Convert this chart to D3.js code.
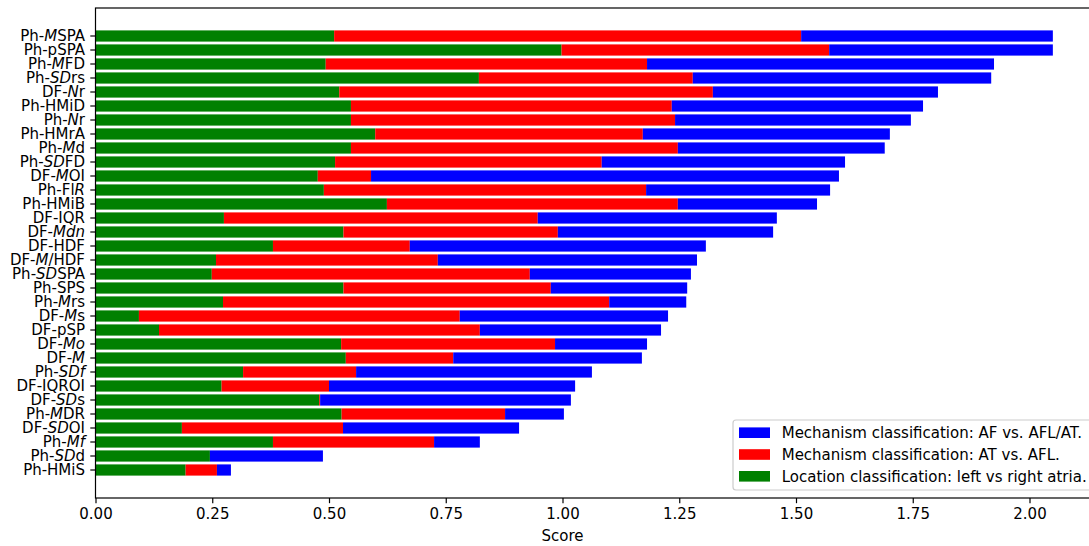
<!DOCTYPE html>
<html>
<head>
<meta charset="utf-8">
<script src="https://cdn.jsdelivr.net/npm/d3@7"></script>
<style>
  body { margin: 0; background: #fff; }
  svg { font-family: "DejaVu Sans", sans-serif; }
</style>
</head>
<body>
<div id="chart"></div>
<script>
// Feature names, *...* marks italic parts
const features = [
    "Ph-*M*SPA", "Ph-pSPA", "Ph-*M*FD", "Ph-*SD*rs", "DF-*N*r", "Ph-HMiD", "Ph-*N*r", "Ph-HMrA",
    "Ph-*M*d", "Ph-*SD*FD", "DF-*M*OI", "Ph-Fl*R*", "Ph-HMiB", "DF-IQR", "DF-*Mdn*", "DF-HDF",
    "DF-*M*/HDF", "Ph-*SD*SPA", "Ph-SPS", "Ph-*M*rs", "DF-*M*s", "DF-pSP", "DF-*Mo*", "DF-*M*",
    "Ph-*SDf*", "DF-IQROI", "DF-*SD*s", "Ph-*M*DR", "DF-*SD*OI", "Ph-*Mf*", "Ph-*SD*d", "Ph-HMiS"
];

// Location classification: left vs right atria (green)
const locationScores = [
    0.511, 0.998, 0.493, 0.821, 0.522, 0.547, 0.547, 0.599,
    0.547, 0.513, 0.476, 0.489, 0.624, 0.275, 0.531, 0.380,
    0.258, 0.249, 0.531, 0.273, 0.093, 0.136, 0.526, 0.536,
    0.316, 0.270, 0.479, 0.527, 0.185, 0.380, 0.245, 0.193
];

// Mechanism classification: AT vs. AFL (red)
const atAflScores = [
    1.000, 0.573, 0.688, 0.458, 0.800, 0.687, 0.694, 0.573,
    0.700, 0.571, 0.114, 0.690, 0.623, 0.672, 0.459, 0.293,
    0.475, 0.681, 0.444, 0.827, 0.687, 0.687, 0.458, 0.230,
    0.242, 0.230, 0.002, 0.350, 0.345, 0.345, 0.000, 0.067
];

// Mechanism classification: AF vs. AFL/AT (blue)
const afAflAtScores = [
    0.539, 0.479, 0.743, 0.639, 0.482, 0.538, 0.505, 0.529,
    0.443, 0.521, 1.002, 0.394, 0.298, 0.512, 0.461, 0.634,
    0.555, 0.345, 0.292, 0.165, 0.446, 0.388, 0.197, 0.404,
    0.505, 0.527, 0.537, 0.126, 0.377, 0.098, 0.242, 0.030
];

const xTicks = [0, 0.25, 0.5, 0.75, 1.0, 1.25, 1.5, 1.75, 2.0];

const seriesKeys = ["location", "atAfl", "afAflAt"];
const seriesColors = { location: "green", atAfl: "red", afAflAt: "blue" };
const legendItems = [
    { key: "afAflAt", text: "Mechanism classification: AF vs. AFL/AT." },
    { key: "atAfl", text: "Mechanism classification: AT vs. AFL." },
    { key: "location", text: "Location classification: left vs right atria." }
];

function init() {
    const width = 1089;
    const height = 546;
    const fontSize = 15;

    const svg = d3.select("#chart").append("svg")
        .attr("width", width)
        .attr("height", height);

    const plot = { left: 95.5, top: 8, bottom: 498 };

    const rows = features.map(function(f, i) {
        return {
            name: f,
            location: locationScores[i],
            atAfl: atAflScores[i],
            afAflAt: afAflAtScores[i]
        };
    });

    // x domain like matplotlib: 0 to max + 5% margin
    const maxTotal = d3.max(rows, d => d.location + d.atAfl + d.afAflAt);
    const x = d3.scaleLinear()
        .domain([0, maxTotal * 1.05])
        .range([plot.left, plot.left + maxTotal * 1.05 * 467]);

    const y = d3.scaleBand()
        .domain(features)
        .range([plot.top, plot.bottom])
        .paddingInner(0.2)
        .paddingOuter(1.6);

    const stacked = d3.stack().keys(seriesKeys)(rows);

    // Bars
    svg.append("g")
        .selectAll("g")
        .data(stacked)
        .join("g")
        .attr("fill", d => seriesColors[d.key])
        .selectAll("rect")
        .data(d => d)
        .join("rect")
        .attr("x", d => x(d[0]))
        .attr("y", d => y(d.data.name))
        .attr("width", d => Math.max(0, x(d[1]) - x(d[0])))
        .attr("height", y.bandwidth());

    // Frame
    svg.append("rect")
        .attr("x", plot.left)
        .attr("y", plot.top)
        .attr("width", x.range()[1] - plot.left)
        .attr("height", plot.bottom - plot.top)
        .attr("fill", "none")
        .attr("stroke", "black")
        .attr("stroke-width", 1.2);

    // X axis
    const xAxis = d3.axisBottom(x)
        .tickValues(xTicks)
        .tickFormat(d3.format(".2f"))
        .tickSize(5.2)
        .tickPadding(5)
        .tickSizeOuter(0);

    const gx = svg.append("g")
        .attr("transform", "translate(0," + plot.bottom + ")")
        .call(xAxis);
    gx.select(".domain").remove();
    gx.selectAll("line").attr("stroke-width", 1.2);
    gx.selectAll("text")
        .attr("font-size", fontSize)
        .attr("font-family", "DejaVu Sans")
        .attr("fill", "black");

    svg.append("text")
        .attr("x", x(1.0))
        .attr("y", 541)
        .attr("text-anchor", "middle")
        .attr("font-size", fontSize)
        .text("Score");

    // Y axis
    const yAxis = d3.axisLeft(y)
        .tickSize(5.2)
        .tickPadding(5)
        .tickSizeOuter(0)
        .tickFormat("");

    const gy = svg.append("g")
        .attr("transform", "translate(" + plot.left + ",0)")
        .call(yAxis);
    gy.select(".domain").remove();
    gy.selectAll("line").attr("stroke-width", 1.2);

    // Labels with italic parts
    gy.selectAll(".tick").each(function(d) {
        const t = d3.select(this).select("text")
            .attr("x", -10.5)
            .attr("font-size", fontSize)
            .attr("font-family", "DejaVu Sans")
            .attr("fill", "black");
        d.split("*").forEach(function(part, i) {
            if (!part) return;
            t.append("tspan")
                .attr("font-style", i % 2 === 1 ? "italic" : "normal")
                .text(part);
        });
    });

    // Legend
    const legend = svg.append("g");
    legend.append("rect")
        .attr("x", 733)
        .attr("y", 420)
        .attr("width", 360)
        .attr("height", 70)
        .attr("rx", 3)
        .attr("fill", "white")
        .attr("fill-opacity", 0.8)
        .attr("stroke", "#cccccc")
        .attr("stroke-width", 1.2);

    const rowsLegend = legend.selectAll("g")
        .data(legendItems)
        .join("g")
        .attr("transform", (d, i) => "translate(739," + (432.7 + i * 21.8) + ")");

    rowsLegend.append("rect")
        .attr("x", 0)
        .attr("y", -5.3)
        .attr("width", 31)
        .attr("height", 10.6)
        .attr("fill", d => seriesColors[d.key]);

    rowsLegend.append("text")
        .attr("x", 42.7)
        .attr("dy", "0.35em")
        .attr("font-size", fontSize)
        .text(d => d.text);
}

window.addEventListener("load", init);
</script>
</body>
</html>
